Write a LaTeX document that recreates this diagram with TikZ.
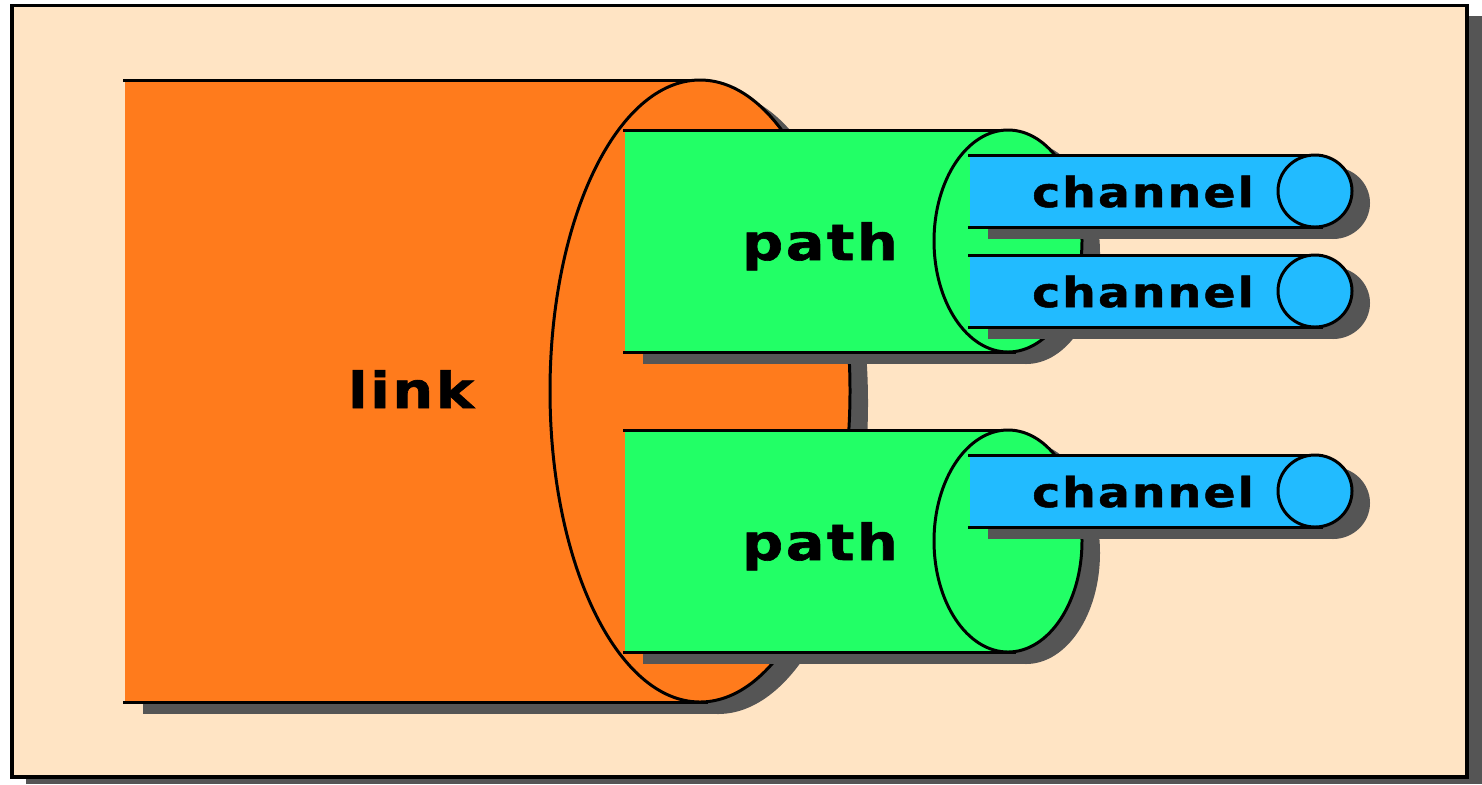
\documentclass[tikz,border=0pt]{standalone}
\usepackage{fontspec}
\newfontfamily\labelfont[FakeStretch=1.15, FakeBold=1.2, LetterSpace=5]{DejaVu Sans}

\definecolor{paper}{HTML}{FFE4C4}
\definecolor{shadowgray}{HTML}{555555}
\definecolor{linkorange}{HTML}{FF7B1C}
\definecolor{pathgreen}{HTML}{22FF66}
\definecolor{chanblue}{HTML}{22BBFF}

\tikzset{
  outline/.style={draw=black, line width=0.85pt},
  biglabel/.style={anchor=base, inner sep=0pt, font=\labelfont\bfseries\fontsize{14.2}{16}\selectfont},
  chanlabel/.style={anchor=base, inner sep=0pt, font=\labelfont\bfseries\fontsize{11.7}{14}\selectfont}
}

% tube: left end, centre x of end face, centre y, half width of face, half height, colour
\newcommand{\tube}[6]{%
  \fill[shadowgray] ({#1+18},{#3-#5+12}) rectangle ({#2+18},{#3+#5+12});
  \fill[shadowgray] ({#2+18},{#3+12}) ellipse [x radius=#4, y radius=#5];
  \fill[#6] (#1,{#3-#5}) rectangle (#2,{#3+#5});
  \draw[outline] ({#1-2},{#3-#5}) -- ({#2+8},{#3-#5})
                 ({#1-2},{#3+#5}) -- ({#2+8},{#3+#5});
  \filldraw[fill=#6, outline] (#2,#3) ellipse [x radius=#4, y radius=#5];
}

\begin{document}
\begin{tikzpicture}[x=0.01cm, y=-0.01cm]
  % page and framed card
  \fill[white] (0,0) rectangle (1482,784);
  \fill[shadowgray] (26,16) rectangle (1482,784);
  \filldraw[fill=paper, draw=black, line width=1pt] (12,5.5) rectangle (1467,777);

  % link
  \tube{125}{700}{391}{150}{311}{linkorange}
  % upper path with two channels
  \tube{625}{1008}{241}{74}{111}{pathgreen}
  \tube{970}{1315}{191}{37}{36}{chanblue}
  \tube{970}{1315}{291}{37}{36}{chanblue}
  % lower path with one channel
  \tube{625}{1008}{541}{74}{111}{pathgreen}
  \tube{970}{1315}{491}{37}{36}{chanblue}

  % labels
  \node[biglabel] (link) at (411,408) {link};
  \node[biglabel] (upperpath) at (820,260) {path};
  \node[biglabel] (lowerpath) at (820,560) {path};
  \node[chanlabel] (chanA) at (1143,207) {channel};
  \node[chanlabel] (chanB) at (1143,307) {channel};
  \node[chanlabel] (chanC) at (1143,507) {channel};
\end{tikzpicture}
\end{document}
